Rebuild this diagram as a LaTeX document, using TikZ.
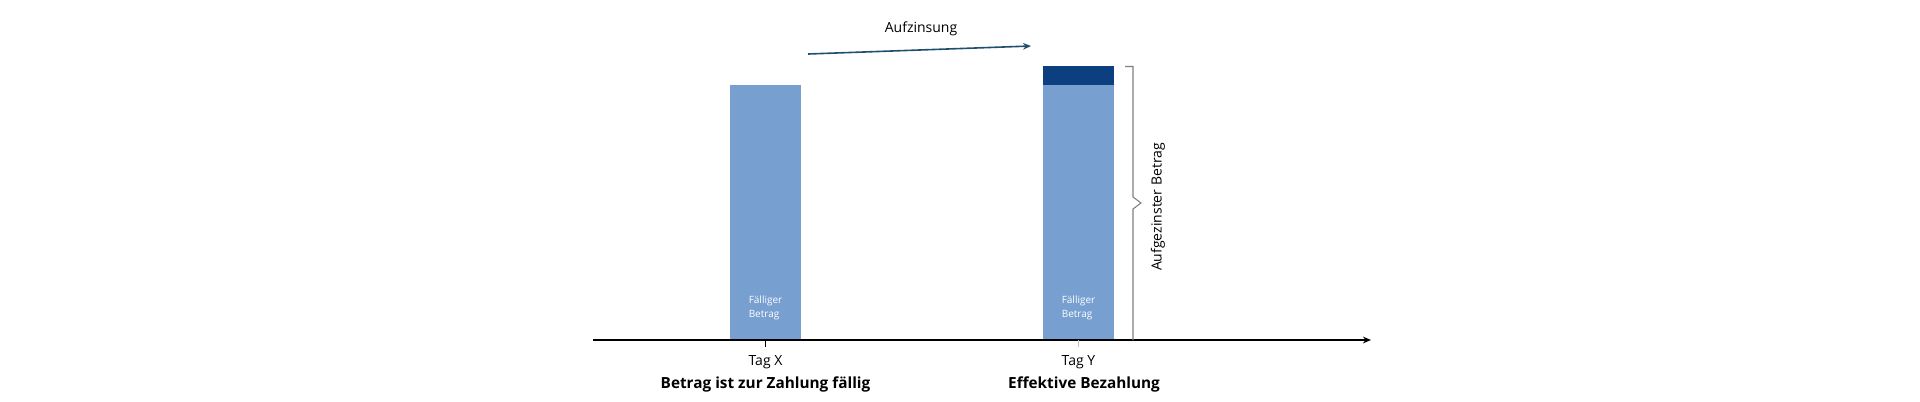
\documentclass[tikz,border=0pt]{standalone}
\usepackage{fontspec}
\usetikzlibrary{arrows.meta}
\setmainfont{Open Sans}
\definecolor{lb}{HTML}{779FD0}
\definecolor{db}{HTML}{0B3F7F}
\definecolor{ar}{HTML}{1F4E6E}
\definecolor{gr}{HTML}{7F7F7F}
\begin{document}
\begin{tikzpicture}[x=0.75pt,y=-0.75pt,
  lbl/.style={font=\fontsize{10.5}{12}\selectfont,inner sep=0pt},
  blbl/.style={font=\fontsize{11.5}{13}\bfseries\selectfont,inner sep=0pt},
  inl/.style={font=\fontsize{7.5}{11}\selectfont,text=white,align=left,inner sep=0pt}]
\useasboundingbox (0,0) rectangle (1920,401);
\fill[lb] (730,84.5) rectangle (801,340);
\fill[lb] (1043,84.5) rectangle (1114,340);
\fill[db] (1043,66) rectangle (1114,84.5);
\node[inl] (f1) at (765.5,308) {Fälliger\\Betrag};
\node[inl] (f2) at (1078.5,308) {Fälliger\\Betrag};
\coordinate (a0) at (593,340);
\coordinate (a1) at (1371,340);
\draw[line width=1pt,-{Stealth[length=6pt,width=5pt]}] (a0) -- (a1);
\draw[black] (765.5,340) -- (765.5,347);
\draw[gray!50] (1078.5,340) -- (1078.5,347);
\node[lbl] (tx) at (765.5,362) {Tag X};
\node[lbl] (ty) at (1078.5,362) {Tag Y};
\node[blbl] (bx) at (765.5,384) {Betrag ist zur Zahlung fällig};
\node[blbl] (by) at (1084,384) {Effektive Bezahlung};
\coordinate (s) at (808,54);
\coordinate (e) at (1031,46);
\draw[ar,line width=1.2pt,-{Stealth[length=6pt,width=5pt]}] (s) -- (e);
\node[lbl] (auf) at (921,29) {Aufzinsung};
\draw[gr,line width=0.8pt] (1125,66.5) -- (1133,66.5) -- (1133,197) -- (1141,203) -- (1133,209) -- (1133,340);
\node[lbl,rotate=90] (ab) at (1158,207) {Aufgezinster Betrag};
\end{tikzpicture}
\end{document}
